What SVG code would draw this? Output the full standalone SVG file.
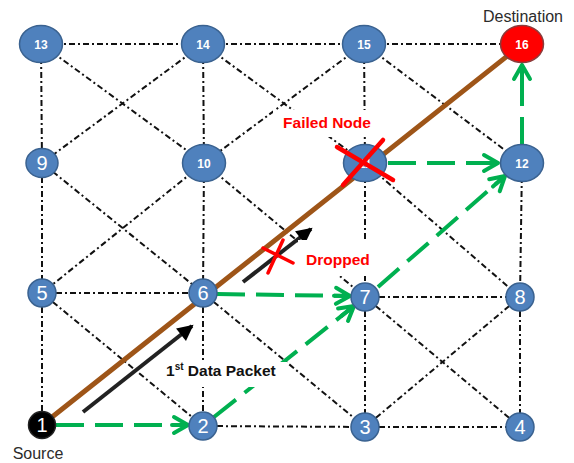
<svg xmlns="http://www.w3.org/2000/svg" width="574" height="463" viewBox="0 0 574 463">
  <style>
    .link { fill: none; stroke: #111; stroke-width: 2; stroke-dasharray: 6 3 2 3; }
    .route { fill: none; stroke: #00B050; stroke-width: 4; stroke-dasharray: 28 11; marker-end: url(#chev); }
    .node ellipse { fill: #4F81BD; stroke: #3A6290; stroke-width: 1.5; }
    .big { font-family: "Liberation Sans", Arial, sans-serif; font-size: 20px; fill: #fff; text-anchor: middle; }
    .small { font-family: "Liberation Sans", Arial, sans-serif; font-size: 12px; font-weight: bold; fill: #fff; text-anchor: middle; }
    .lbl { font-family: "Liberation Sans", Arial, sans-serif; font-size: 16px; fill: #2b2b2b; text-anchor: middle; }
    .warn { font-family: "Liberation Sans", Arial, sans-serif; font-size: 15.5px; font-weight: bold; fill: #FF0000; }
    .cross { stroke: #FF0000; stroke-linecap: round; }
    .packet { stroke: #222; stroke-width: 4; marker-end: url(#tri); }
  </style>
  <defs>
    <marker id="chev" markerUnits="userSpaceOnUse" markerWidth="24" markerHeight="24" refX="16" refY="8" orient="auto" overflow="visible">
      <path d="M2,0 L16,8 L2,16 M16,8 L0,8" fill="none" stroke="#00B050" stroke-width="4" stroke-linecap="round" stroke-linejoin="round"/>
    </marker>
    <marker id="tri" markerUnits="userSpaceOnUse" markerWidth="20" markerHeight="20" refX="14" refY="8" orient="auto" overflow="visible">
      <path d="M0,0 L16,8 L0,16 Z" fill="#000"/>
    </marker>
  </defs>

  <!-- mesh links (dash-dot) -->
  <g id="connectors">
    <g id="links">
      <!-- top row -->
      <line class="link" x1="41" y1="44" x2="203" y2="44"/>
      <line class="link" x1="203" y1="44" x2="364" y2="44"/>
      <line class="link" x1="364" y1="44" x2="522" y2="44"/>
      <!-- row 5-8 -->
      <line class="link" x1="42" y1="293" x2="203" y2="293"/>
      <line class="link" x1="365" y1="297" x2="520" y2="297"/>
      <!-- bottom row -->
      <line class="link" x1="203" y1="426" x2="365" y2="427"/>
      <line class="link" x1="365" y1="427" x2="520" y2="427"/>
      <!-- verticals -->
      <line class="link" x1="41" y1="44" x2="42" y2="163"/>
      <line class="link" x1="42" y1="163" x2="42" y2="293"/>
      <line class="link" x1="42" y1="293" x2="42" y2="425"/>
      <line class="link" x1="203" y1="44" x2="204" y2="163"/>
      <line class="link" x1="204" y1="163" x2="203" y2="293"/>
      <line class="link" x1="203" y1="293" x2="203" y2="426"/>
      <line class="link" x1="364" y1="44" x2="365" y2="163"/>
      <line class="link" x1="365" y1="163" x2="365" y2="297"/>
      <line class="link" x1="365" y1="297" x2="365" y2="427"/>
      <line class="link" x1="522" y1="163" x2="520" y2="297"/>
      <line class="link" x1="520" y1="297" x2="520" y2="427"/>
      <!-- diagonals -->
      <line class="link" x1="41" y1="44" x2="204" y2="163"/>
      <line class="link" x1="203" y1="44" x2="42" y2="163"/>
      <line class="link" x1="203" y1="44" x2="365" y2="163"/>
      <line class="link" x1="364" y1="44" x2="204" y2="163"/>
      <line class="link" x1="364" y1="44" x2="522" y2="163"/>
      <line class="link" x1="42" y1="163" x2="203" y2="293"/>
      <line class="link" x1="204" y1="163" x2="42" y2="293"/>
      <line class="link" x1="204" y1="163" x2="365" y2="297"/>
      <line class="link" x1="365" y1="163" x2="520" y2="297"/>
      <line class="link" x1="42" y1="293" x2="203" y2="426"/>
      <line class="link" x1="203" y1="293" x2="365" y2="427"/>
      <line class="link" x1="365" y1="297" x2="520" y2="427"/>
      <line class="link" x1="520" y1="297" x2="365" y2="427"/>
    </g>

    <!-- rerouted path (green dashed) -->
    <g id="reroute">
      <line class="route" x1="56" y1="425" x2="188" y2="425"/>
      <line class="route" x1="214" y1="417" x2="354" y2="306"/>
      <line class="route" x1="217" y1="294" x2="350" y2="296"/>
      <line class="route" x1="378" y1="287" x2="505" y2="176"/>
      <line class="route" x1="388" y1="163" x2="498" y2="163"/>
      <line class="route" x1="522" y1="145" x2="522" y2="65"/>
    </g>

    <!-- original path from source to destination -->
    <line id="primary" x1="42" y1="425" x2="520" y2="46" stroke="#9E5518" stroke-width="5" stroke-linecap="round"/>

    <!-- packet direction arrows -->
    <g id="packets">
      <line class="packet" x1="83" y1="412" x2="192" y2="326"/>
      <line class="packet" x1="243" y1="282" x2="311" y2="229"/>
    </g>
  </g>

  <!-- labels on white boxes -->
  <g id="labels">
    <rect x="273" y="110" width="110" height="27" fill="#fff"/>
    <text class="warn" x="327" y="128" text-anchor="middle">Failed Node</text>
    <rect x="298" y="240" width="84" height="36" fill="#fff"/>
    <text class="warn" x="306" y="265">Dropped</text>
    <rect x="157" y="362" width="130" height="25" fill="#fff"/>
    <text x="166" y="376" font-family="Liberation Sans, Arial, sans-serif" font-size="15.5" font-weight="bold" fill="#111">1<tspan font-size="10" dy="-6">st</tspan><tspan dy="6"> Data Packet</tspan></text>
    <text class="lbl" x="523" y="22">Destination</text>
    <text class="lbl" x="38" y="459">Source</text>
  </g>

  <!-- nodes -->
  <g id="node13" class="node"><ellipse cx="41" cy="44" rx="21.5" ry="18.5"/><text class="small" x="41" y="48.5">13</text></g>
  <g id="node14" class="node"><ellipse cx="203" cy="44" rx="21.5" ry="18.5"/><text class="small" x="203" y="48.5">14</text></g>
  <g id="node15" class="node"><ellipse cx="364" cy="44" rx="21.5" ry="18.5"/><text class="small" x="364" y="48.5">15</text></g>
  <g id="node16" class="node"><ellipse cx="522" cy="44" rx="21.5" ry="18.5" style="fill:#FF0000;stroke:#8C3B3B"/><text class="small" x="522" y="48.5">16</text></g>

  <g id="node9" class="node"><ellipse cx="42" cy="163" rx="16" ry="14.5"/><text class="big" x="42" y="170">9</text></g>
  <g id="node10" class="node"><ellipse cx="204" cy="163" rx="21.5" ry="18.5"/><text class="small" x="204" y="167.5" font-weight="normal">10</text></g>
  <g id="node11" class="node"><ellipse cx="365" cy="163" rx="21.5" ry="18.5"/><text class="small" x="365" y="167.5">11</text></g>
  <g id="node12" class="node"><ellipse cx="522" cy="163" rx="21.5" ry="18.5"/><text class="small" x="522" y="167.5">12</text></g>

  <g id="node5" class="node"><ellipse cx="42" cy="293" rx="14" ry="14"/><text class="big" x="42" y="300">5</text></g>
  <g id="node6" class="node"><ellipse cx="203" cy="293" rx="14" ry="14"/><text class="big" x="203" y="300">6</text></g>
  <g id="node7" class="node"><ellipse cx="365" cy="297" rx="14" ry="14"/><text class="big" x="365" y="304">7</text></g>
  <g id="node8" class="node"><ellipse cx="520" cy="297" rx="14" ry="14"/><text class="big" x="520" y="304">8</text></g>

  <g id="node1" class="node"><ellipse cx="42" cy="425" rx="13.5" ry="13.5" style="fill:#000;stroke:#222"/><text class="big" x="42" y="432">1</text></g>
  <g id="node2" class="node"><ellipse cx="203" cy="426" rx="14" ry="14"/><text class="big" x="203" y="433">2</text></g>
  <g id="node3" class="node"><ellipse cx="365" cy="427" rx="14" ry="14"/><text class="big" x="365" y="434">3</text></g>
  <g id="node4" class="node"><ellipse cx="520" cy="427" rx="14" ry="14"/><text class="big" x="520" y="434">4</text></g>

  <!-- failure marks -->
  <g id="failures">
    <path class="cross" d="M337,147 L393,180 M383,140 L343,185" stroke-width="4.5"/>
    <path class="cross" d="M263,248 L293,263 M283,240 L268,273" stroke-width="3.5"/>
  </g>
</svg>
